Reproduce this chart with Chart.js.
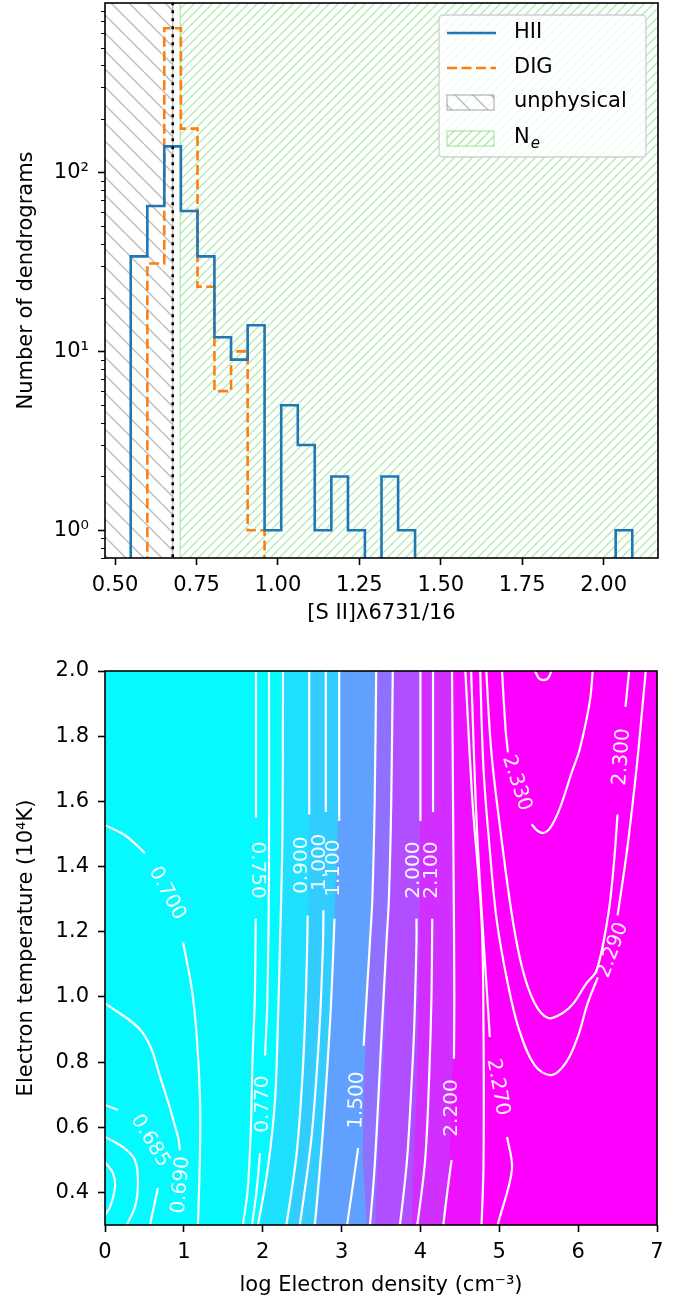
<!DOCTYPE html>
<html>
<head>
<meta charset="utf-8">
<script src="https://cdn.jsdelivr.net/npm/chart.js@4.4.1/dist/chart.umd.min.js"></script>
<style>
  body { margin: 0; background: #fff; }
  .wrap { position: absolute; left: 0; width: 684px; }
</style>
</head>
<body>
<div class="wrap" style="top:0;height:640px"><canvas id="histChart"></canvas></div>
<div class="wrap" style="top:640px;height:662px"><canvas id="contourChart"></canvas></div>
<script>
// ---- histogram data ----
const binEdges = [0.548, 0.599, 0.651, 0.702, 0.753, 0.805, 0.856, 0.907, 0.959, 1.010,
                  1.061, 1.113, 1.164, 1.215, 1.267, 1.318, 1.369, 1.421, 1.472, 1.523,
                  1.575, 1.626, 1.677, 1.729, 1.780, 1.831, 1.883, 1.934, 1.985, 2.037, 2.088];
const hiiCounts = [34, 65, 140, 61, 34, 12, 9, 14, 1, 5, 3, 1, 2, 1, 0, 2, 1, 0, 0, 0, 0, 0, 0, 0, 0, 0, 0, 0, 0, 1];
const digCounts = [0, 31, 641, 176, 23, 6, 10, 1, 0, 0, 0, 0, 0, 0, 0, 0, 0, 0, 0, 0, 0, 0, 0, 0, 0, 0, 0, 0, 0, 0];
const lowDensityLimit = 0.677;
const neStart = 0.70;
const ratioTicks = [0.50, 0.75, 1.00, 1.25, 1.50, 1.75, 2.00];
const countTicks = [1, 10, 100];
const countLabels = ['10\u2070', '10\u00B9', '10\u00B2'];

// ---- contour map data ----
const densityTicks = [0, 1, 2, 3, 4, 5, 6, 7];
const tempTicks = [0.4, 0.6, 0.8, 1.0, 1.2, 1.4, 1.6, 1.8, 2.0];
// colour band boundaries (log density) at these temperatures
const bandTemps = [0.25, 0.5, 0.7, 0.9, 1.2, 1.6, 2.05];
const bandEdges = [
  [1.94, 2.09, 2.15, 2.19, 2.22, 2.25, 2.257],
  [2.30, 2.45, 2.50, 2.54, 2.57, 2.59, 2.59],
  [2.66, 2.76, 2.81, 2.86, 2.905, 2.96, 2.98],
  [3.33, 3.27, 3.28, 3.31, 3.36, 3.41, 3.44],
  [3.42, 3.46, 3.51, 3.55, 3.59, 3.63, 3.65],
  [3.88, 3.92, 3.95, 3.97, 3.99, 4.0, 4.0],
  [4.30, 4.37, 4.40, 4.42, 4.43, 4.42, 4.40],
  [4.78, 4.80, 4.80, 4.78, 4.72, 4.66, 4.63]
];
const bandColors = ['#05faff', '#1fe0ff', '#33ccff', '#60a0ff', '#8f70ff', '#b14eff', '#d12eff', '#ee11ff', '#ff00ff'];

// contour lines [logNe, T], null = gap for a label
const c0675 = [[0, 0.493], [0.10, 0.46], [0.127, 0.417], [0.063, 0.355], [0, 0.331]];
const c0680 = [[0, 0.570], [0.228, 0.539], [0.38, 0.499], [0.418, 0.429], [0.38, 0.355], [0.275, 0.30], [0.25, 0.28]];
const c0685 = [[0, 0.668], [0.165, 0.653], null, [0.672, 0.414], [0.571, 0.30], [0.56, 0.28]];
const c0690 = [[0, 0.981], [0.482, 0.889], [0.723, 0.736], [0.926, 0.570], [0.951, 0.53]];
const c0700 = [[0, 1.527], [0.254, 1.496], [0.507, 1.441], null, [0.989, 1.168], [1.103, 1.021], [1.167, 0.867], [1.205, 0.683], [1.205, 0.53], [1.179, 0.30], [1.175, 0.28]];
const c0750 = [[1.915, 2.02], [1.915, 1.55], null, [1.912, 1.24], [1.90, 1.0], [1.87, 0.8], [1.85, 0.6], [1.81, 0.41], [1.75, 0.30], [1.74, 0.28]];
const c0770 = [[2.08, 2.02], [2.08, 1.4], [2.06, 1.0], [2.03, 0.82], null, [1.966, 0.52], [1.92, 0.40], [1.864, 0.30], [1.85, 0.28]];
const c0800 = [[2.257, 2.02], [2.25, 1.5], [2.22, 1.17], [2.19, 0.9], [2.156, 0.683], [2.067, 0.478], [1.94, 0.30], [1.92, 0.28]];
const c0900 = [[2.59, 2.02], [2.59, 1.56], null, [2.57, 1.25], [2.565, 1.17], [2.54, 0.95], [2.50, 0.74], [2.43, 0.52], [2.30, 0.30], [2.28, 0.28]];
const c1000 = [[2.80, 2.02], [2.80, 1.567], null, [2.77, 1.266], [2.765, 1.17], [2.73, 0.95], [2.68, 0.75], [2.61, 0.55], [2.47, 0.30], [2.45, 0.28]];
const c1100 = [[2.97, 2.02], [2.97, 1.54], null, [2.91, 1.24], [2.90, 1.17], [2.86, 0.95], [2.81, 0.75], [2.75, 0.55], [2.66, 0.30], [2.64, 0.28]];
const c1500 = [[3.44, 2.02], [3.42, 1.6], [3.39, 1.3], [3.36, 1.17], [3.28, 0.85], null, [3.21, 0.536], [3.07, 0.30], [3.05, 0.28]];
const c1800 = [[3.65, 2.02], [3.63, 1.6], [3.60, 1.3], [3.57, 1.17], [3.50, 0.85], [3.42, 0.48], [3.36, 0.30], [3.35, 0.28]];
const c2000 = [[4.0, 2.02], [4.0, 1.54], null, [3.95, 1.24], [3.95, 1.17], [3.92, 0.9], [3.88, 0.7], [3.83, 0.5], [3.74, 0.30], [3.72, 0.28]];
const c2100 = [[4.16, 2.02], [4.16, 1.567], null, [4.15, 1.24], [4.14, 1.0], [4.11, 0.75], [4.06, 0.5], [3.96, 0.30], [3.94, 0.28]];
const c2200 = [[4.40, 2.02], [4.42, 1.4], [4.43, 1.0], [4.425, 0.81], null, [4.395, 0.50], [4.34, 0.40], [4.29, 0.30], [4.28, 0.28]];
const c2250 = [[4.565, 2.02], [4.66, 1.6], [4.775, 1.236], [4.80, 0.90], [4.80, 0.484], [4.775, 0.30], [4.77, 0.28]];
const c2270 = [[4.64, 2.02], [4.72, 1.5], [4.88, 0.877], null, [5.10, 0.57], [5.16, 0.469], [4.98, 0.30], [4.97, 0.28]];
const c2290 = [[4.755, 2.02], [4.80, 1.7], [4.88, 1.45], [4.967, 1.236], [5.10, 1.05], [5.25, 0.90], [5.45, 0.79], [5.66, 0.76],
               [5.85, 0.80], [6.0, 0.88], [6.12, 0.98], [6.25, 1.06], null, [6.50, 1.25], [6.62, 1.45], [6.74, 1.70], [6.80, 1.85], [6.865, 2.02]];
const c2300 = [[4.83, 2.02], [4.90, 1.75], [5.02, 1.50], [5.17, 1.236], [5.30, 1.08], [5.45, 0.98], [5.62, 0.935], [5.80, 0.95],
               [5.94, 0.98], [6.10, 1.04], [6.235, 1.082], [6.38, 1.25], [6.45, 1.40], [6.50, 1.56], null, [6.60, 1.89], [6.655, 2.02]];
const c2330 = [[5.03, 2.02], [5.08, 1.82], [5.11, 1.75], null, [5.41, 1.53], [5.474, 1.512], [5.558, 1.503], [5.65, 1.52],
               [5.77, 1.58], [5.92, 1.69], [6.02, 1.76], [6.15, 1.91], [6.19, 2.02]];
const c2340 = [[5.42, 2.02], [5.50, 1.978], [5.558, 1.972], [5.62, 1.978], [5.69, 2.02]];
const contourLines = [c0675, c0680, c0685, c0690, c0700, c0750, c0770, c0800, c0900, c1000, c1100,
                      c1500, c1800, c2000, c2100, c2200, c2250, c2270, c2290, c2300, c2330, c2340];

// inline contour labels: text, position, rotation (deg, clockwise)
const contourLabels = [
  ['0.685', 0.571, 0.558, 59], ['0.690', 0.964, 0.423, -85], ['0.700', 0.786, 1.318, 62],
  ['0.750', 1.927, 1.389, 90], ['0.770', 2.003, 0.671, -90], ['0.900', 2.498, 1.404, -90],
  ['1.000', 2.726, 1.413, -90], ['1.100', 2.904, 1.395, -90], ['1.500', 3.195, 0.683, -88],
  ['2.000', 3.918, 1.389, -90], ['2.100', 4.147, 1.389, -90], ['2.200', 4.40, 0.659, -90],
  ['2.270', 4.98, 0.723, 80], ['2.290', 6.44, 1.143, -70], ['2.300', 6.555, 1.736, -86],
  ['2.330', 5.22, 1.656, 72]
];

Chart.defaults.font.family = '"DejaVu Sans", sans-serif';
Chart.defaults.font.size = 21;
Chart.defaults.color = '#000';

function hatch(color, step, width, dir) {
  const c = document.createElement('canvas');
  c.width = step; c.height = step;
  const g = c.getContext('2d');
  g.strokeStyle = color;
  g.lineWidth = width;
  g.beginPath();
  for (let k = -1; k <= 1; k++) {
    if (dir > 0) { g.moveTo(k * step, step); g.lineTo(k * step + step, 0); }
    else { g.moveTo(k * step, 0); g.lineTo(k * step + step, step); }
  }
  g.stroke();
  return g.createPattern(c, 'repeat');
}
const greyColor = 'rgba(128,128,128,0.5)';
const greenColor = 'rgba(120,220,120,0.55)';
const greyHatch = hatch(greyColor, 18, 1.5, -1);
const greenHatch = hatch(greenColor, 9, 1.5, 1);

function stepPoints(counts) {
  const floor = 0.1;
  const pts = [{x: binEdges[0], y: floor}];
  counts.forEach((c, i) => {
    const v = c > 0 ? c : floor;
    pts.push({x: binEdges[i], y: v}, {x: binEdges[i + 1], y: v});
  });
  pts.push({x: binEdges[binEdges.length - 1], y: floor});
  return pts;
}

const frame = {
  id: 'frame',
  afterDatasetsDraw(chart) {
    const {ctx, chartArea: a} = chart;
    ctx.save();
    ctx.strokeStyle = '#000';
    ctx.lineWidth = 1.6;
    ctx.strokeRect(a.left, a.top, a.right - a.left, a.bottom - a.top);
    ctx.restore();
  }
};

// minor ticks of the log axis
const minorTicks = {
  id: 'minorTicks',
  afterDraw(chart) {
    const {ctx, chartArea: a} = chart;
    const y = chart.scales.y;
    ctx.save();
    ctx.strokeStyle = '#000';
    ctx.lineWidth = 1.2;
    ctx.beginPath();
    for (let e = -1; e <= 3; e++) {
      for (let m = 2; m <= 9; m++) {
        const v = m * Math.pow(10, e);
        if (v < y.min || v > y.max) continue;
        const py = Math.round(y.getPixelForValue(v)) + 0.5;
        ctx.moveTo(a.left, py);
        ctx.lineTo(a.left - 4, py);
      }
    }
    ctx.stroke();
    ctx.restore();
  }
};

const histLegend = {
  id: 'histLegend',
  afterDraw(chart) {
    const {ctx, chartArea: a} = chart;
    const w = 207, h = 142;
    const x0 = a.right - 12 - w, y0 = a.top + 12;
    ctx.save();
    ctx.beginPath();
    ctx.roundRect(x0, y0, w, h, 4);
    ctx.fillStyle = 'rgba(255,255,255,0.8)';
    ctx.fill();
    ctx.strokeStyle = '#d0d0d0';
    ctx.lineWidth = 1.3;
    ctx.stroke();

    const hx = x0 + 8, hw = 49, tx = x0 + 75;
    const rows = [y0 + 18, y0 + 53, y0 + 87, y0 + 123];
    ctx.lineWidth = 2.6;
    ctx.strokeStyle = '#1f77b4';
    ctx.beginPath(); ctx.moveTo(hx, rows[0]); ctx.lineTo(hx + hw, rows[0]); ctx.stroke();
    ctx.strokeStyle = '#ff7f0e';
    ctx.setLineDash([10, 4.5]);
    ctx.beginPath(); ctx.moveTo(hx, rows[1]); ctx.lineTo(hx + hw, rows[1]); ctx.stroke();
    ctx.setLineDash([]);

    ctx.lineWidth = 1.4;
    ctx.fillStyle = greyHatch;
    ctx.strokeStyle = greyColor;
    ctx.fillRect(hx, rows[2] - 7, hw - 2, 15);
    ctx.strokeRect(hx, rows[2] - 7, hw - 2, 15);
    ctx.fillStyle = greenHatch;
    ctx.strokeStyle = greenColor;
    ctx.fillRect(hx, rows[3] - 7, hw - 2, 15);
    ctx.strokeRect(hx, rows[3] - 7, hw - 2, 15);

    ctx.fillStyle = '#000';
    ctx.font = '21px "DejaVu Sans"';
    ctx.textBaseline = 'middle';
    ctx.fillText('HII', tx, rows[0]);
    ctx.fillText('DIG', tx, rows[1]);
    ctx.fillText('unphysical', tx, rows[2]);
    ctx.fillText('N', tx, rows[3]);
    const nw = ctx.measureText('N').width;
    ctx.font = 'italic 15px "DejaVu Sans"';
    ctx.fillText('e', tx + nw + 1, rows[3] + 6);
    ctx.restore();
  }
};

const contourText = {
  id: 'contourText',
  afterDatasetsDraw(chart) {
    const {ctx} = chart;
    const xs = chart.scales.x, ys = chart.scales.y;
    ctx.save();
    ctx.fillStyle = 'rgba(255,255,255,0.95)';
    ctx.font = '20px "DejaVu Sans"';
    ctx.textAlign = 'center';
    ctx.textBaseline = 'middle';
    contourLabels.forEach(([t, x, y, rot]) => {
      ctx.save();
      ctx.translate(xs.getPixelForValue(x), ys.getPixelForValue(y));
      ctx.rotate(rot * Math.PI / 180);
      ctx.fillText(t, 0, 0);
      ctx.restore();
    });
    ctx.restore();
  }
};

function axisGrid() {
  return { drawOnChartArea: false, tickLength: 7, tickWidth: 1.6, tickColor: '#000' };
}
// keep the plot area where the layout padding puts it
function noLabelPadding(s) {
  s.paddingTop = 0; s.paddingBottom = 0; s.paddingLeft = 0; s.paddingRight = 0;
}

// ---- top: histogram ----
const histCtx = document.getElementById('histChart').getContext('2d');
const histChart = new Chart(histCtx, {
  type: 'line',
  data: {
    datasets: [
      {
        label: 'dotted limit',
        data: [{x: lowDensityLimit, y: 0.1}, {x: lowDensityLimit, y: 5000}],
        borderColor: '#000', borderWidth: 2.6, borderDash: [3, 5], pointRadius: 0, order: 0
      },
      {
        label: 'HII',
        data: stepPoints(hiiCounts),
        borderColor: '#1f77b4', borderWidth: 2.6, pointRadius: 0, order: 1
      },
      {
        label: 'DIG',
        data: stepPoints(digCounts),
        borderColor: '#ff7f0e', borderWidth: 2.6, borderDash: [10, 4.5], pointRadius: 0, order: 2
      },
      {
        label: 'unphysical',
        data: [{x: 0.3, y: 0.1}, {x: lowDensityLimit, y: 0.1}, {x: lowDensityLimit, y: 5000}, {x: 0.3, y: 5000}, {x: 0.3, y: 0.1}],
        fill: 'shape', backgroundColor: greyHatch,
        borderColor: greyColor, borderWidth: 1.4, pointRadius: 0, order: 5
      },
      {
        label: 'Ne',
        data: [{x: neStart, y: 0.1}, {x: 3, y: 0.1}, {x: 3, y: 5000}, {x: neStart, y: 5000}, {x: neStart, y: 0.1}],
        fill: 'shape', backgroundColor: greenHatch,
        borderColor: greenColor, borderWidth: 1.4, pointRadius: 0, order: 6
      }
    ]
  },
  options: {
    responsive: true,
    maintainAspectRatio: false,
    animation: false,
    events: [],
    layout: { padding: { left: 10, top: 3, right: 26, bottom: 10 } },
    scales: {
      x: {
        type: 'linear', min: 0.469, max: 2.167,
        afterBuildTicks: s => { s.ticks = ratioTicks.map(v => ({value: v})); },
        afterFit: s => { s.height = 72; noLabelPadding(s); },
        ticks: { callback: v => v.toFixed(2), padding: 8, maxRotation: 0, autoSkip: false },
        grid: axisGrid(),
        border: { display: false },
        title: { display: true, text: '[S II]\u03BB6731/16', padding: { top: 4, bottom: 4 } }
      },
      y: {
        type: 'logarithmic', min: 0.726, max: 887,
        afterBuildTicks: s => { s.ticks = countTicks.map(v => ({value: v})); },
        afterFit: s => { s.width = 95; noLabelPadding(s); },
        ticks: { callback: v => countLabels[countTicks.indexOf(v)], padding: 9 },
        grid: axisGrid(),
        border: { display: false },
        title: { display: true, text: 'Number of dendrograms', padding: { top: 4, bottom: 4 } }
      }
    },
    plugins: { legend: { display: false }, tooltip: { enabled: false } }
  },
  plugins: [frame, minorTicks, histLegend]
});

// ---- bottom: line ratio map ----
const leftBound = bandTemps.map(() => -0.5);
const rightBound = bandTemps.map(() => 7.5);
const allEdges = [leftBound].concat(bandEdges);
const bandSets = bandColors.map((color, i) => {
  const left = allEdges[i].map((x, k) => ({x: x, y: bandTemps[k]}));
  const right = rightBound.map((x, k) => ({x: x, y: bandTemps[k]})).reverse();
  return {
    data: left.concat(right, [left[0]]),
    fill: 'shape', backgroundColor: color,
    borderColor: 'rgba(0,0,0,0)', borderWidth: 0, pointRadius: 0, tension: 0,
    order: 100 - i
  };
});
const lineSets = contourLines.map(line => ({
  data: line.map(p => p ? {x: p[0], y: p[1]} : {x: null, y: null}),
  borderColor: '#fff', borderWidth: 2.2, pointRadius: 0, tension: 0.35, fill: false, order: 1
}));

const mapCtx = document.getElementById('contourChart').getContext('2d');
const mapChart = new Chart(mapCtx, {
  type: 'line',
  data: { datasets: bandSets.concat(lineSets) },
  options: {
    responsive: true,
    maintainAspectRatio: false,
    animation: false,
    events: [],
    layout: { padding: { left: 10, top: 31, right: 27, bottom: 0 } },
    scales: {
      x: {
        type: 'linear', min: 0, max: 7,
        afterBuildTicks: s => { s.ticks = densityTicks.map(v => ({value: v})); },
        afterFit: s => { s.height = 77; noLabelPadding(s); },
        ticks: { callback: v => String(v), padding: 8, maxRotation: 0, autoSkip: false },
        grid: axisGrid(),
        border: { display: false },
        title: { display: true, text: 'log Electron density (cm\u207B\u00B3)', padding: { top: 4, bottom: 4 } }
      },
      y: {
        type: 'linear', min: 0.3, max: 2.0,
        afterBuildTicks: s => { s.ticks = tempTicks.map(v => ({value: v})); },
        afterFit: s => { s.width = 95; noLabelPadding(s); },
        ticks: { callback: v => v.toFixed(1), padding: 9 },
        grid: axisGrid(),
        border: { display: false },
        title: { display: true, text: 'Electron temperature (10\u2074K)', padding: { top: 4, bottom: 4 } }
      }
    },
    plugins: { legend: { display: false }, tooltip: { enabled: false } }
  },
  plugins: [contourText, frame]
});
</script>
</body>
</html>
